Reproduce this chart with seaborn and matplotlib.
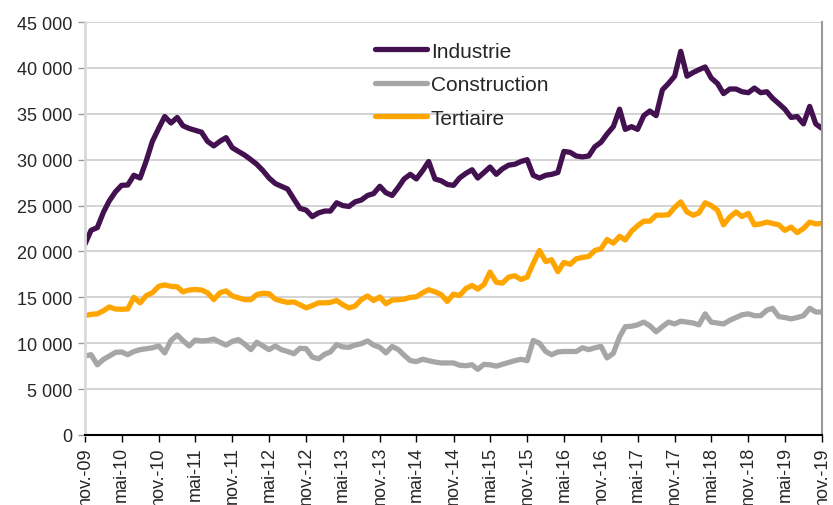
import numpy as np
import pandas as pd
import matplotlib
matplotlib.use("Agg")
import matplotlib.pyplot as plt
import seaborn as sns

# ---------------- data (monthly, nov-09 .. nov-19) ----------------
industrie = [
    20800, 22300, 22600, 24300, 25500, 26500, 27200, 27240, 28300, 28000,
    29900, 32000, 33400, 34700, 34000, 34600, 33700, 33400, 33200, 33000,
    32000, 31500, 32000, 32400, 31300, 30900, 30500, 30000, 29500, 28800,
    28000, 27400, 27100, 26800, 25700, 24700, 24500, 23800, 24200, 24400,
    24400, 25300, 25000, 24900, 25400, 25600, 26100, 26300, 27100, 26400,
    26100, 27000, 27900, 28400, 27900, 28800, 29800, 27900, 27700, 27300,
    27200, 28000, 28500, 28900, 28000, 28600, 29200, 28400, 29000, 29400,
    29500, 29800, 30000, 28300, 28000, 28300, 28400, 28600, 30900, 30800,
    30400, 30300, 30400, 31400, 31900, 32800, 33600, 35500, 33300, 33600,
    33300, 34800, 35300, 34800, 37600, 38300, 39100, 41800, 39100, 39500,
    39800, 40100, 38900, 38300, 37200, 37700, 37700, 37400, 37300, 37800,
    37300, 37400, 36700, 36100, 35500, 34600, 34700, 33900, 35800, 33900,
    33400,
]
construction = [
    8600, 8750, 7650, 8250, 8600, 9000, 9050, 8750, 9100, 9300,
    9400, 9500, 9700, 8950, 10300, 10900, 10300, 9700, 10350, 10250,
    10300, 10450, 10100, 9800, 10200, 10400, 9900, 9300, 10100, 9700,
    9300, 9700, 9300, 9100, 8850, 9450, 9400, 8500, 8300, 8800,
    9050, 9850, 9600, 9550, 9800, 9950, 10250, 9800, 9550, 8950,
    9650, 9300, 8700, 8100, 8000, 8250, 8100, 7950, 7850, 7850,
    7850, 7600, 7550, 7650, 7150, 7700, 7650, 7500, 7700, 7900,
    8100, 8250, 8100, 10300, 10000, 9100, 8750, 9050, 9100, 9100,
    9100, 9500, 9300, 9500, 9650, 8400, 8900, 10700, 11800, 11850,
    12000, 12300, 11900, 11250, 11800, 12300, 12100, 12400, 12300, 12200,
    12000, 13200, 12300, 12200, 12100, 12500, 12800, 13100, 13200, 13000,
    13000, 13600, 13800, 12900, 12800, 12650, 12800, 13000, 13800, 13400,
    13400,
]
tertiaire = [
    13000, 13150, 13200, 13550, 13950, 13730, 13700, 13730, 15000, 14400,
    15200, 15500, 16200, 16350, 16200, 16150, 15600, 15800, 15850, 15800,
    15500, 14750, 15500, 15700, 15150, 14950, 14750, 14750, 15300, 15450,
    15400, 14800, 14600, 14450, 14500, 14200, 13850, 14100, 14400, 14400,
    14450, 14650, 14200, 13850, 14050, 14750, 15150, 14650, 15040, 14300,
    14700, 14750, 14800, 15000, 15050, 15500, 15830, 15600, 15300, 14550,
    15350, 15200, 15950, 16300, 15900, 16400, 17750, 16650, 16550, 17200,
    17350, 16950, 17200, 18700, 20100, 18900, 19100, 17800, 18800, 18600,
    19200, 19350, 19450, 20100, 20300, 21300, 20900, 21650, 21250, 22200,
    22800, 23300, 23300, 23950, 23950, 24000, 24800, 25400, 24300, 23950,
    24200, 25300, 25000, 24500, 22900, 23750, 24300, 23800, 24150, 22900,
    23000, 23200, 23050, 22900, 22300, 22650, 22050, 22500, 23200, 23000,
    23050,
]
series_names = ["Industrie", "Construction", "Tertiaire"]
series_colors = ["#431150", "#a6a6a6", "#ffa500"]
tick_labels = ["nov.-09", "mai-10", "nov.-10", "mai-11", "nov.-11", "mai-12",
               "nov.-12", "mai-13", "nov.-13", "mai-14", "nov.-14", "mai-15",
               "nov.-15", "mai-16", "nov.-16", "mai-17", "nov.-17", "mai-18",
               "nov.-18", "mai-19", "nov.-19"]
y_ticks = list(range(0, 45001, 5000))

dates = pd.date_range("2009-11-01", periods=len(industrie), freq="MS")
df = pd.DataFrame({"date": dates, "Industrie": industrie,
                   "Construction": construction, "Tertiaire": tertiaire})
long = df.melt(id_vars="date", var_name="serie", value_name="valeur")

# ---------------- plot ----------------
sns.set_theme(style="white")
plt.rcParams["font.family"] = ["Liberation Sans", "DejaVu Sans"]

fig = plt.figure(figsize=(8.33, 5.06), dpi=100)
ax = fig.add_axes([85 / 833, 1 - 436 / 506, (822 - 85) / 833, (436 - 23) / 506])

sns.lineplot(data=long, x="date", y="valeur", hue="serie",
             hue_order=series_names, palette=series_colors,
             linewidth=3.8, ax=ax, legend=True)

ax.set_xlim(dates[0], dates[-1])
ax.set_ylim(0, 45000)
ax.set_yticks(y_ticks)
ax.set_yticklabels([f"{v:,}".replace(",", " ") for v in y_ticks], fontsize=13)
xt = pd.date_range("2009-11-01", "2019-11-01", freq="6MS")
ax.set_xticks(xt)
ax.set_xticklabels(tick_labels, rotation=90, fontsize=13, va="top")
ax.set_xlabel("")
ax.set_ylabel("")

ax.grid(axis="y", color="#c8c8c8", linewidth=1.1)
ax.set_axisbelow(True)
ax.spines["top"].set_visible(False)
ax.spines["left"].set_color("#d9d9d9")
ax.spines["left"].set_linewidth(2)
ax.spines["right"].set_color("#999999")
ax.spines["right"].set_linewidth(1.5)
ax.spines["bottom"].set_color("black")
ax.spines["bottom"].set_linewidth(1.5)
ax.tick_params(axis="x", direction="out", length=5, width=1, color="black",
               bottom=True, pad=3)
ax.tick_params(axis="y", direction="out", length=5, width=1, color="#999999",
               left=True, pad=4)

leg = ax.legend(loc="upper left", bbox_to_anchor=(0.376, 0.983), frameon=False,
                fontsize=15, handlelength=2.5, handletextpad=0.2,
                labelspacing=0.7, borderaxespad=0.2)
for h in leg.get_lines():
    h.set_linewidth(3.8)

fig.savefig("out.png", dpi=100)
